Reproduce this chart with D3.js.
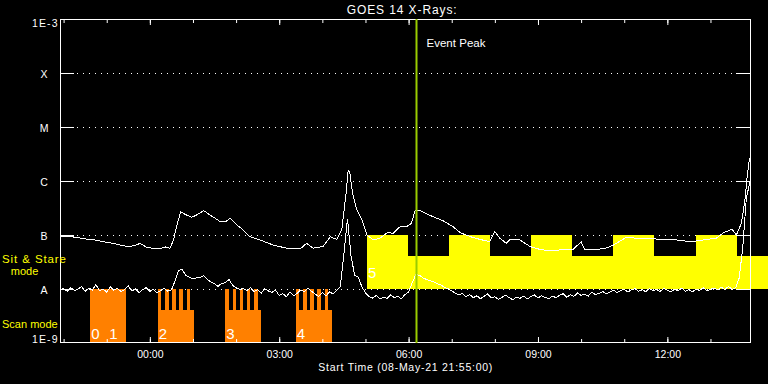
<!DOCTYPE html>
<html>
<head>
<meta charset="utf-8">
<script src="https://cdn.jsdelivr.net/npm/d3@7"></script>
<style>
html, body { margin: 0; padding: 0; background: #000; }
svg { display: block; }
text { font-family: "Liberation Sans", Arial, sans-serif; fill: #fff; }
</style>
</head>
<body>
<div id="chart"></div>
<script>
const width = 768;
const height = 384;

//Time base: minutes after 08-May-21 21:55:00 UT
const startTime = Date.UTC(2021, 4, 8, 21, 55, 0);
const spanMinutes = 960;

//GOES class levels
const levelNames = ['A', 'B', 'C', 'M', 'X'];
const levelFlux = [1e-8, 1e-7, 1e-6, 1e-5, 1e-4];

//1-8 A channel (upper curve), flux in 1e-9 W/m2
const longTime = [0, 14, 37, 51, 60, 74, 88, 97, 106, 111, 121, 129, 139, 147, 153, 158, 162, 168, 174, 183,
  190, 200, 209, 223, 230, 237, 246, 255, 264, 278, 297, 315, 334, 343, 352, 366, 376, 385, 392, 398,
  401, 403, 407, 413, 420, 427, 436, 445, 455, 464, 473, 482, 489, 494, 501, 519, 533, 547, 557, 571,
  584, 598, 605, 612, 621, 626, 640, 654, 668, 682, 696, 710, 714, 725, 730, 747, 761, 770, 788, 802,
  821, 839, 858, 877, 895, 913, 923, 935, 941, 948, 953, 956, 959, 960];
const longFlux = [96, 94, 84, 80, 75, 70, 63, 61, 65, 70, 59, 57, 56, 60, 57, 81, 142, 270, 241, 213,
  234, 282, 234, 176, 176, 204, 153, 124, 93, 81, 65, 57, 55, 70, 57, 61, 93, 83, 124, 592,
  1600, 1487, 592, 290, 190, 100, 81, 87, 110, 108, 142, 142, 165, 282, 282, 218, 184, 142, 110, 93,
  83, 75, 115, 87, 70, 82, 81, 61, 54, 51, 53, 55, 54, 75, 54, 54, 58, 65, 91, 87,
  87, 81, 81, 75, 81, 87, 110, 128, 100, 165, 445, 1200, 2450, 2600];

//0.5-4 A channel (lower curve), one value every 5 minutes, flux in 1e-9 W/m2
const shortStep = 5;
const shortFlux = [
  9.8, 10.2, 9.1, 10.5, 9.4, 9.9, 11.2, 9.0, 10.4, 9.6, 12.1, 9.3,
  10.0, 8.7, 11.0, 9.5, 10.3, 8.9, 9.8, 11.4, 9.2, 10.1, 8.6, 9.7,
  10.6, 9.0, 9.9, 8.5, 9.4, 10.2, 9.1, 9.6, 14, 22, 23, 18,
  16.5, 15.5, 16, 16.5, 17.5, 15, 13.5, 12.5, 11.2, 12.8, 13, 15,
  11.8, 10.5, 9.8, 10.2, 9.4, 10.6, 9.0, 9.8, 8.4, 10.1, 9.2, 8.7,
  9.5, 7.6, 8.2, 7.2, 8.8, 7.5, 8.3, 9.6, 8.9, 10.3, 9.1, 8.0,
  7.3, 8.6, 7.4, 8.9, 8.1, 9.4, 11.0, 45, 200, 40, 18, 16.5,
  11, 8.5, 7.2, 6.8, 7.6, 6.5, 7.1, 6.7, 7.8, 6.9, 7.3, 6.6,
  7.9, 8.8, 13, 18.5, 18, 16, 15, 14.2, 13.5, 12.6, 11.8, 10.8,
  10.1, 9.2, 8.4, 7.8, 8.2, 7.2, 7.9, 6.9, 7.5, 6.6, 7.3, 8.1,
  6.8, 7.2, 6.4, 7.0, 7.7, 6.9, 6.3, 7.1, 6.7, 7.4, 6.5, 7.2,
  7.8, 6.8, 7.5, 7.0, 6.6, 7.4, 6.9, 7.6, 8.2, 7.0, 7.8, 7.3,
  8.4, 7.6, 8.0, 7.4, 8.7, 7.9, 8.3, 9.0, 8.1, 8.8, 9.5, 8.6,
  9.3, 9.9, 8.8, 9.6, 10.2, 9.1, 9.7, 8.9, 10.1, 9.4, 9.8, 9.0,
  10.3, 9.5, 8.8, 9.9, 9.3, 10.4, 9.1, 9.7, 8.9, 10.0, 9.4, 10.6,
  9.2, 9.8, 10.5, 9.6, 10.9, 9.7, 11.2, 9.8, 10.5, 16, 60, 500,
  950];

//Scan mode blocks (minutes after start)
const scanFull = [[42, 67], [67, 92]];
const scanBase = [[136, 186], [230, 280], [328, 378]];
const scanTeeth = [[136, 141], [146, 151], [156, 161], [166, 171], [176, 181],
  [230, 235], [240, 245], [250, 255], [260, 265], [270, 275],
  [328, 333], [338, 343], [348, 353], [358, 363], [368, 373]];
const scanLabels = ['0', '1', '2', '3', '4'];
const scanLabelTimes = [42, 67, 136, 230, 328];

//Sit & Stare blocks
const stareBase = [[427, 985]];
const stareHigh = [[427, 484], [541, 598], [655, 713], [769, 827], [885, 942]];
const stareLabels = ['5'];
const stareLabelTimes = [427];

const eventPeak = 496;

const toDate = m => new Date(startTime + m * 60000);

//Create SVG canvas
const svg = d3.select('#chart').
append('svg').
attr('width', width).
attr('height', height).
style('background', '#000');

//Scales
const x = d3.scaleUtc().
domain([toDate(0), toDate(spanMinutes)]).
range([60, 750]);
const y = d3.scaleLog().
domain([1e-9, 1e-3]).
range([343, 19]);

//Dotted level lines
svg.append('g').
selectAll('line').
data(levelFlux).
enter().append('line').
attr('x1', 77).
attr('x2', 736).
attr('y1', d => Math.round(y(d)) + 0.5).
attr('y2', d => Math.round(y(d)) + 0.5).
attr('stroke', '#fff').
attr('stroke-dasharray', '1,5');

//Mode blocks
function blocks(data, lo, hi, color) {
  svg.append('g').
  selectAll('rect').
  data(data).
  enter().append('rect').
  attr('x', d => x(toDate(d[0]))).
  attr('width', d => x(toDate(d[1])) - x(toDate(d[0]))).
  attr('y', y(hi)).
  attr('height', y(lo) - y(hi)).
  attr('fill', color).
  attr('shape-rendering', 'crispEdges');
}
blocks(scanFull, 1e-9, 1e-8, '#ff8000');
blocks(scanBase, 1e-9, 4.1e-9, '#ff8000');
blocks(scanTeeth, 1e-9, 1e-8, '#ff8000');
blocks(stareBase, 1e-8, 4.1e-8, '#ffff00');
blocks(stareHigh, 1e-8, 1e-7, '#ffff00');

//Axes, ticks pointing inwards
function styleAxis(g) {
  g.select('.domain').remove();
  g.selectAll('line').attr('stroke', '#fff');
  g.selectAll('text').
  attr('fill', '#fff').
  attr('font-family', '"Liberation Sans", Arial, sans-serif').
  attr('font-size', 10.5);
}
svg.append('g').
attr('transform', 'translate(0,343)').
call(d3.axisBottom(x).ticks(d3.utcHour.every(1)).tickSize(-4).tickSizeOuter(0).tickFormat('')).
call(styleAxis);
svg.append('g').
attr('transform', 'translate(0,343)').
call(d3.axisBottom(x).ticks(d3.utcHour.every(3)).tickSize(-6).tickSizeOuter(0).tickPadding(8).tickFormat(d3.utcFormat('%H:%M'))).
call(styleAxis);
svg.append('g').
attr('transform', 'translate(0,19)').
call(d3.axisTop(x).ticks(d3.utcHour.every(1)).tickSize(-4).tickSizeOuter(0).tickFormat('')).
call(styleAxis);
svg.append('g').
attr('transform', 'translate(0,19)').
call(d3.axisTop(x).ticks(d3.utcHour.every(3)).tickSize(-6).tickSizeOuter(0).tickFormat('')).
call(styleAxis);
svg.append('g').
attr('transform', 'translate(60,0)').
call(d3.axisLeft(y).tickValues(levelFlux).tickSize(-14).tickSizeOuter(0).tickFormat('')).
call(styleAxis);
svg.append('g').
attr('transform', 'translate(750,0)').
call(d3.axisRight(y).tickValues(levelFlux).tickSize(-14).tickSizeOuter(0).tickFormat('')).
call(styleAxis);

//Frame
svg.append('rect').
attr('x', 60.5).
attr('y', 19.5).
attr('width', 690).
attr('height', 323).
attr('fill', 'none').
attr('stroke', '#fff');

//Flux curves
const longLine = d3.line().
x((d, i) => x(toDate(longTime[i]))).
y(d => y(d * 1e-9));
const shortLine = d3.line().
x((d, i) => x(toDate(i * shortStep))).
y(d => y(d * 1e-9));

svg.append('path').
datum(shortFlux).
attr('d', shortLine).
attr('fill', 'none').
attr('stroke', '#fff').
attr('stroke-width', 1).
attr('shape-rendering', 'crispEdges');
svg.append('path').
datum(longFlux).
attr('d', longLine).
attr('fill', 'none').
attr('stroke', '#fff').
attr('stroke-width', 1).
attr('shape-rendering', 'crispEdges');

//Event peak marker
svg.append('line').
attr('x1', x(toDate(eventPeak))).
attr('x2', x(toDate(eventPeak))).
attr('y1', 19).
attr('y2', 343).
attr('stroke', '#99cc00').
attr('stroke-width', 2);
svg.append('text').
attr('x', x(toDate(eventPeak)) + 10).
attr('y', 46.5).
attr('font-size', 11.5).
attr('textLength', 59).
text('Event Peak');

//Block numbers
svg.append('g').
selectAll('text').
data(scanLabels).
enter().append('text').
attr('x', (d, i) => x(toDate(scanLabelTimes[i])) + 1).
attr('y', 338.5).
attr('font-size', 15).
text(d => d);
svg.append('g').
selectAll('text').
data(stareLabels).
enter().append('text').
attr('x', (d, i) => x(toDate(stareLabelTimes[i])) + 1).
attr('y', 277.5).
attr('font-size', 15).
text(d => d);

//Y labels
svg.append('g').
selectAll('text').
data(levelNames).
enter().append('text').
attr('x', 44).
attr('y', (d, i) => y(levelFlux[i]) + 4.5).
attr('text-anchor', 'middle').
attr('font-size', 10.5).
text(d => d);
svg.append('text').
attr('x', 57.5).attr('y', 26.7).
attr('text-anchor', 'end').
attr('font-size', 10.5).
attr('textLength', 25.5).
text('1E-3');
svg.append('text').
attr('x', 57.5).attr('y', 343.3).
attr('text-anchor', 'end').
attr('font-size', 10.5).
attr('textLength', 25.5).
text('1E-9');

//Mode labels
svg.append('text').
attr('x', 2).attr('y', 262.5).
attr('font-size', 11.5).
attr('textLength', 64).
style('fill', '#ffff00').
text('Sit & Stare');
svg.append('text').
attr('x', 24.5).attr('y', 275).
attr('text-anchor', 'middle').
attr('font-size', 11).
style('fill', '#ffff00').
text('mode');
svg.append('text').
attr('x', 2).attr('y', 328).
attr('font-size', 11).
style('fill', '#ffff00').
text('Scan mode');

//Title and x label
svg.append('text').
attr('x', 346.7).attr('y', 14).
attr('font-size', 12).
attr('textLength', 110).
text('GOES 14 X-Rays:');
svg.append('text').
attr('x', 318.3).attr('y', 371).
attr('font-size', 10.5).
attr('textLength', 174).
text('Start Time (08-May-21 21:55:00)');
</script>
</body>
</html>
